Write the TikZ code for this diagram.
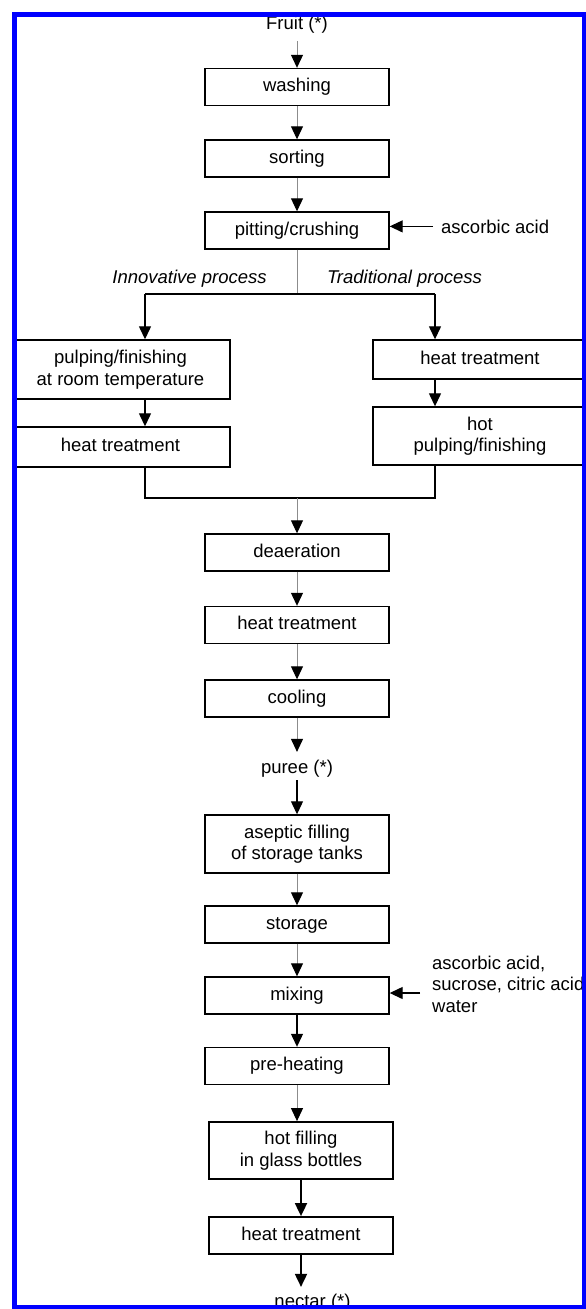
\documentclass[tikz,border=0pt]{standalone}
\usepackage{fontspec}
\setmainfont{Liberation Sans}
\usetikzlibrary{arrows.meta}
\definecolor{trunkgray}{RGB}{140,140,140}
\definecolor{framebl}{RGB}{0,0,255}
\begin{document}
\begin{tikzpicture}[x=1pt,y=-1pt,
  every node/.style={font=\fontsize{18.5}{21.5}\selectfont},
  txt/.style={inner sep=0pt},
  lab/.style={inner sep=0pt, font=\fontsize{18.5}{21.5}\selectfont\itshape},
  box/.style={draw=black, line width=1.4pt, minimum width=184pt, minimum height=37pt, inner sep=0pt, text height=13.4pt, text depth=4pt},
  boxtwo/.style={draw=black, line width=1.4pt, minimum width=184pt, inner sep=0pt, align=center},
  tip/.style={-{Triangle[length=13pt,width=12pt,color=black]}},
  trunk/.style={draw=trunkgray, line width=1pt, tip},
  trunkline/.style={draw=trunkgray, line width=1pt},
  link/.style={draw=black, line width=1.3pt},
  linkarrow/.style={draw=black, line width=1.3pt, tip},
  strong/.style={draw=black, line width=1.8pt, tip},
  frame/.style={draw=framebl, line width=5pt}
]
\fill[white] (0,0) rectangle (586,1309);
\useasboundingbox (0,0) rectangle (586,1309);
\begin{scope}
\clip (17,17) rectangle (582,1305);
\node[txt, anchor=base] (fruit) at (297,29) {Fruit (*)};
\node[box] (wash) at (297,87) {washing};
\node[box] (sort) at (297,158.5) {sorting};
\node[box] (pit) at (297,230.5) {pitting/crushing};
\node[txt, anchor=base west] (asc) at (441,233) {ascorbic acid};
\node[lab, anchor=base] (inno) at (189.5,283) {Innovative process};
\node[lab, anchor=base] (trad) at (404.5,283) {Traditional process};
\node[boxtwo, minimum width=219pt, minimum height=59pt] (l1) at (120.5,369.5) {pulping/finishing\\at room temperature};
\node[box, minimum width=219pt, minimum height=40pt] (l2) at (120.5,447) {heat treatment};
\node[box, minimum width=214pt, minimum height=39pt] (r1) at (480,359.5) {heat treatment};
\node[boxtwo, minimum width=214pt, minimum height=58pt] (r2) at (480,436) {hot\\pulping/finishing};
\node[box] (dea) at (297,552.5) {deaeration};
\node[box] (heatone) at (297,625) {heat treatment};
\node[box] (cool) at (297,698.5) {cooling};
\node[txt, anchor=base] (puree) at (297,773) {puree (*)};
\node[boxtwo, minimum height=58pt] (asep) at (297,844) {aseptic filling\\of storage tanks};
\node[box] (stor) at (297,924.5) {storage};
\node[box] (mix) at (297,995.5) {mixing};
\node[txt, anchor=north west, align=left] (add) at (432,955.5) {ascorbic acid,\\sucrose, citric acid\\water};
\node[box] (pre) at (297,1066) {pre-heating};
\node[boxtwo, line width=1.8pt, minimum height=57pt] (hot) at (301,1150.5) {hot filling\\in glass bottles};
\node[box, line width=1.8pt] (heattwo) at (301,1235.5) {heat treatment};
\node[txt, anchor=base] (nectar) at (312.5,1307) {nectar (*)};

\coordinate (bc) at (297,294);
\coordinate (bl) at (145,294);
\coordinate (br) at (435,294);
\coordinate (ml) at (145,498);
\coordinate (mr) at (435,498);
\coordinate (mc) at (297,498);
\coordinate (mixin) at (420,993);

\draw[trunk, shorten <=8pt] (fruit) -- (wash);
\draw[trunk] (wash) -- (sort);
\draw[trunk] (sort) -- (pit);
\draw[linkarrow, shorten <=8pt] (asc.west) -- (asc.west -| pit.east);
\draw[trunkline] (pit) -- (bc);
\draw[link] (bl) -- (br);
\draw[linkarrow] (bl) -- (bl |- l1.north);
\draw[linkarrow] (br) -- (br |- r1.north);
\draw[linkarrow] (l1.south -| bl) -- (l2.north -| bl);
\draw[linkarrow] (r1.south -| br) -- (r2.north -| br);
\draw[link] (l2.south -| bl) -- (ml) -- (mr) -- (r2.south -| br);
\draw[trunk] (mc) -- (dea);
\draw[trunk] (dea) -- (heatone);
\draw[trunk] (heatone) -- (cool);
\draw[trunk, shorten >=7.5pt] (cool) -- (puree);
\draw[linkarrow, line width=1.1pt, shorten <=3pt] (puree) -- (asep);
\draw[trunk] (asep) -- (stor);
\draw[trunk] (stor) -- (mix);
\draw[linkarrow] (mixin) -- (mixin -| mix.east);
\draw[linkarrow, line width=1.1pt] (mix) -- (pre);
\draw[trunk] (pre) -- (pre |- hot.north);
\draw[strong] (hot) -- (heattwo);
\draw[strong, shorten >=6.5pt] (heattwo) -- (heattwo |- nectar.north);
\end{scope}
\draw[frame] (14.5,14.5) rectangle (584.5,1307.5);
\end{tikzpicture}
\end{document}
